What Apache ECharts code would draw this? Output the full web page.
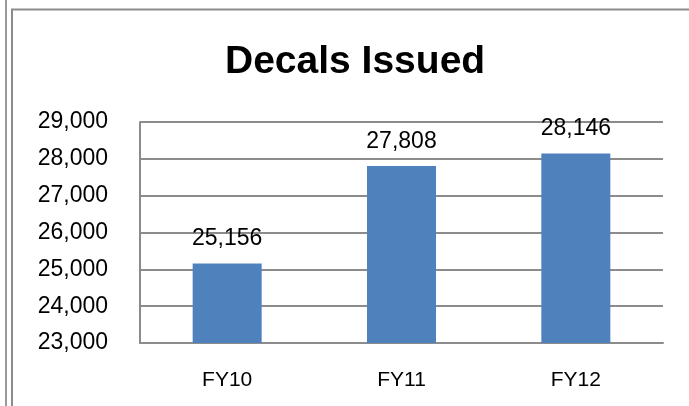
<!DOCTYPE html>
<html>
<head>
<meta charset="utf-8">
<script src="https://cdn.jsdelivr.net/npm/echarts@6/dist/echarts.min.js"></script>
<style>
html,body{margin:0;padding:0;background:#fff;}
#main{width:689px;height:406px;}
</style>
</head>
<body>
<div id="main"></div>
<script>
const categories = ['FY10', 'FY11', 'FY12'];
const decals = [25156, 27808, 28146];
const yMin = 23000, yMax = 29000, yStep = 1000;

const chart = echarts.init(document.getElementById('main'), null, {renderer: 'canvas'});
const fmt = v => v.toLocaleString('en-US');
chart.setOption({
  animation: false,
  backgroundColor: '#ffffff',
  title: {
    text: 'Decals Issued',
    left: 220,
    top: 38,
    textStyle: {fontFamily: 'Liberation Sans', fontWeight: 'bold', fontSize: 39, color: '#000'}
  },
  graphic: [
    {type: 'line', shape: {x1: 6, y1: 0, x2: 6, y2: 406}, style: {stroke: '#9a9a9a', lineWidth: 2}},
    {type: 'rect', shape: {x: 12, y: 9.5, width: 720, height: 430}, style: {fill: 'none', stroke: '#8c8c8c', lineWidth: 2}}
  ],
  grid: {left: 140, top: 122, right: 26, bottom: 63, containLabel: false},
  xAxis: {
    type: 'category',
    data: categories,
    axisLine: {show: true, lineStyle: {color: '#8c8c8c', width: 2}},
    axisTick: {show: false},
    axisLabel: {margin: 27, fontFamily: 'Liberation Sans', fontSize: 21, color: '#000'}
  },
  yAxis: {
    type: 'value',
    min: yMin, max: yMax, interval: yStep,
    axisLine: {show: true, lineStyle: {color: '#8c8c8c', width: 2}},
    axisTick: {show: false},
    splitLine: {show: true, lineStyle: {color: '#8c8c8c', width: 2}},
    axisLabel: {margin: 32, fontFamily: 'Liberation Sans', fontSize: 23, color: '#000', formatter: fmt}
  },
  series: [{
    type: 'bar',
    data: decals,
    barWidth: 69,
    itemStyle: {color: '#4f81bd'},
    label: {
      show: true, position: 'top', distance: 13,
      fontFamily: 'Liberation Sans', fontSize: 23, color: '#000',
      formatter: p => fmt(p.value)
    }
  }]
});
</script>
</body>
</html>
